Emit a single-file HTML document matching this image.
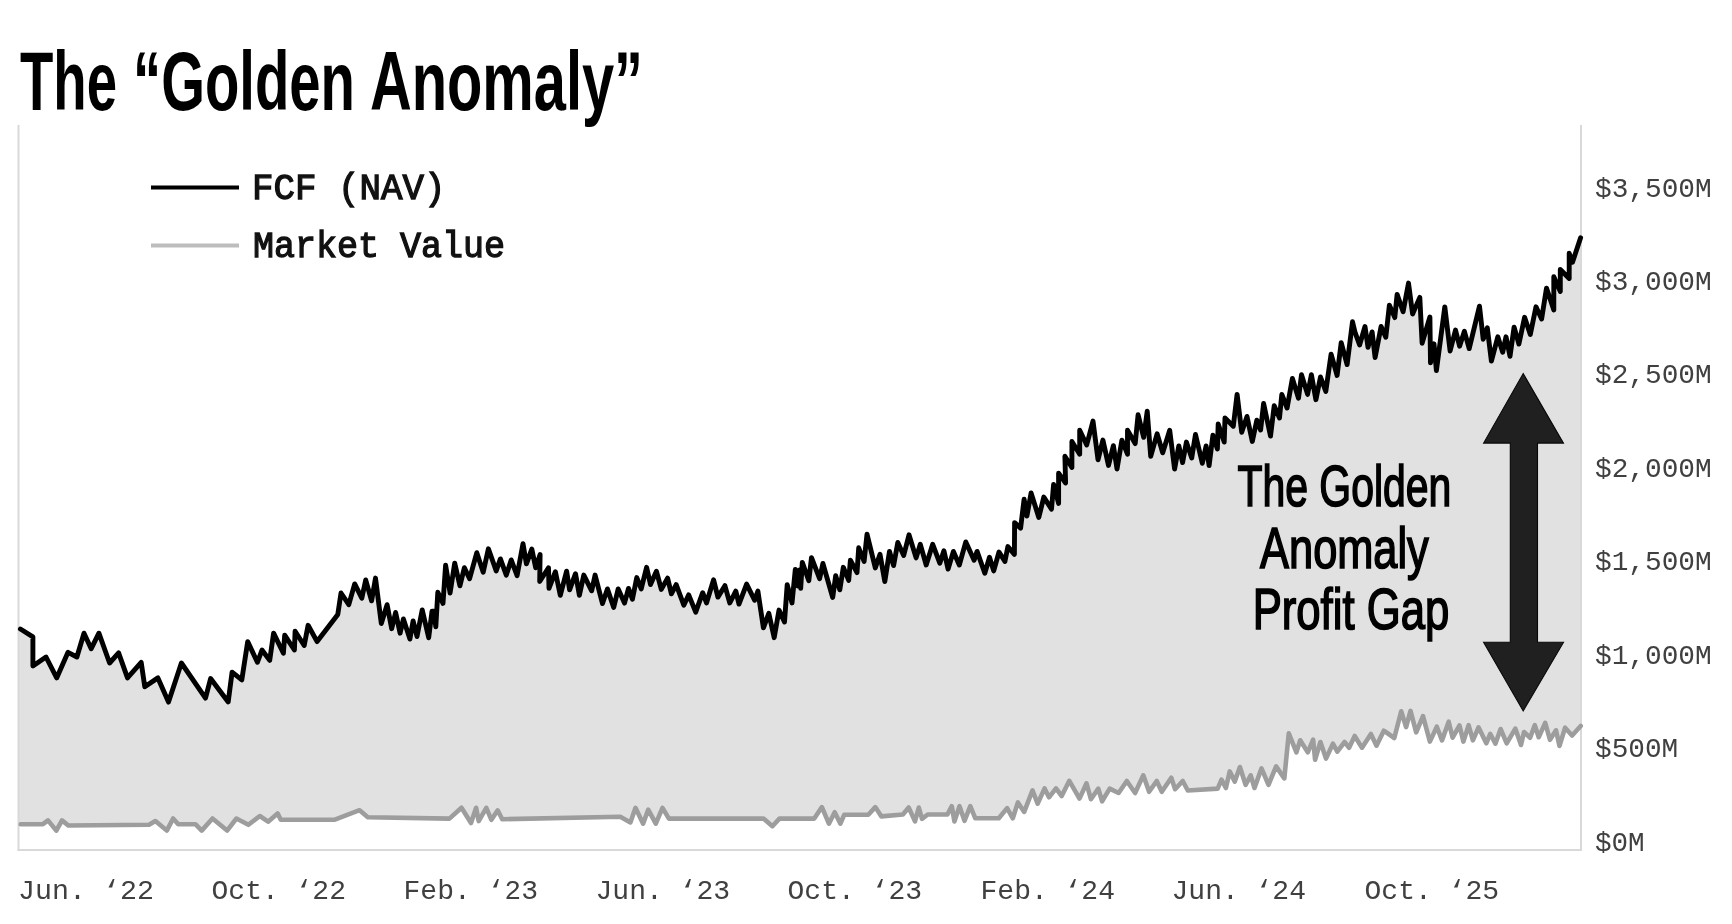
<!DOCTYPE html>
<html><head><meta charset="utf-8">
<style>
html,body{margin:0;padding:0;background:#fff;}
body{width:1732px;height:924px;overflow:hidden;}
svg{display:block;filter:blur(0.5px);}
.ax{font-family:"Liberation Mono",monospace;font-size:28px;fill:#404040;}
.lg{font-family:"Liberation Mono",monospace;font-size:37px;fill:#111;stroke:#111;stroke-width:1.3px;}
.ttl{font-family:"Liberation Sans",sans-serif;font-weight:bold;fill:#000;}
.ann{font-family:"Liberation Sans",sans-serif;font-weight:normal;fill:#000;stroke:#000;stroke-width:1.7px;}
</style></head><body>
<svg width="1732" height="924" viewBox="0 0 1732 924">
<rect width="1732" height="924" fill="#fff"/>
<polygon points="19.0,628.4 20.4,629.0 32.9,636.8 32.9,666.0 46.0,657.0 56.7,677.9 68.0,652.3 76.9,657.0 84.0,633.2 91.2,648.7 98.9,633.2 109.6,663.0 118.6,652.9 127.5,677.9 141.2,662.4 144.8,686.8 157.9,677.9 168.5,702.1 181.4,663.0 205.5,698.1 210.6,678.6 228.2,701.9 232.1,672.1 241.8,679.9 247.7,641.6 257.4,662.3 262.0,650.0 269.7,660.4 273.6,633.1 283.4,653.2 284.7,635.1 294.4,650.0 295.1,631.2 304.2,645.5 308.1,625.3 317.1,641.6 337.8,614.4 341.0,593.0 348.8,604.7 354.7,583.9 361.8,598.2 365.7,580.0 371.6,600.8 375.5,578.1 381.3,623.5 387.1,604.7 391.7,628.7 395.6,612.5 400.1,633.2 403.4,619.0 409.9,639.1 413.1,620.9 417.0,636.5 422.2,609.9 428.7,637.8 432.0,611.2 433.9,611.2 435.8,626.8 437.8,592.3 443.0,603.4 445.6,565.1 450.1,593.0 454.7,563.1 459.9,585.8 464.4,567.7 469.6,578.7 476.8,552.7 483.2,572.2 488.4,548.8 496.2,570.9 500.4,558.9 506.3,575.1 511.2,559.9 517.1,575.6 523.0,543.7 526.4,563.9 531.8,549.1 535.7,567.8 540.1,554.5 539.7,581.5 548.5,567.8 549.0,588.4 555.4,571.7 560.3,595.3 566.6,571.2 569.6,589.9 575.5,573.7 579.4,595.3 583.8,575.1 591.7,590.8 595.1,575.1 602.5,603.6 607.4,588.9 613.7,607.5 618.2,588.9 624.5,603.1 628.5,588.4 632.4,599.2 636.8,577.6 641.2,588.9 646.6,567.3 650.5,584.5 656.4,571.2 661.3,589.4 667.6,578.1 671.4,593.8 676.2,584.6 683.8,605.2 688.7,594.9 695.7,612.2 702.7,592.7 706.5,603.0 713.6,579.8 717.9,597.1 724.9,585.7 729.8,603.0 735.8,591.1 739.0,604.1 746.6,584.1 754.7,600.3 757.9,591.1 763.4,627.9 768.8,613.3 774.2,637.7 779.0,610.1 784.5,622.0 787.2,584.6 792.0,603.0 795.3,569.5 798.0,586.0 799.5,570.0 800.7,588.4 802.3,562.4 808.8,580.8 811.5,557.6 819.6,578.7 822.9,563.5 832.7,597.5 835.7,575.6 839.8,589.8 843.3,567.3 848.7,580.4 850.4,560.2 857.0,572.7 858.7,547.8 864.1,561.4 867.0,534.2 875.3,567.9 880.0,554.3 884.8,581.5 889.5,551.4 893.6,565.6 897.8,542.5 903.7,555.5 909.0,534.8 916.1,557.9 920.3,544.3 926.2,565.0 932.7,544.3 939.8,563.2 943.9,550.8 948.1,569.1 953.4,551.4 959.3,565.0 965.8,541.9 974.1,560.2 977.1,551.4 984.8,573.3 989.5,557.3 993.7,570.9 999.0,552.0 1004.9,561.4 1007.9,546.6 1014.4,554.3 1014.6,522.6 1020.6,528.1 1024.1,499.2 1026.9,516.1 1031.1,492.9 1038.8,517.5 1043.8,497.1 1051.5,509.1 1053.6,484.4 1058.6,503.4 1058.6,473.2 1065.6,483.0 1064.9,456.3 1071.9,467.5 1071.9,441.5 1079.7,454.2 1079.7,430.3 1086.7,445.0 1093.0,421.1 1098.0,459.8 1102.9,440.1 1108.5,465.4 1113.4,445.7 1117.0,469.0 1121.9,440.1 1127.5,454.2 1127.5,430.3 1135.2,443.6 1138.1,414.8 1143.7,437.3 1147.2,411.3 1150.7,456.3 1157.1,433.8 1162.7,452.8 1169.7,430.3 1174.6,469.0 1178.8,445.9 1182.6,462.6 1186.4,442.1 1191.7,458.0 1195.5,434.5 1202.3,463.3 1206.1,445.9 1209.1,465.6 1212.9,435.3 1217.4,448.9 1218.2,423.9 1224.2,442.1 1225.0,417.9 1233.3,426.2 1237.1,394.4 1241.7,432.3 1247.0,416.4 1252.3,441.4 1256.8,420.2 1260.6,430.0 1263.6,403.5 1270.5,436.1 1274.2,405.8 1279.5,417.9 1281.8,394.4 1287.1,408.0 1292.4,378.5 1298.5,398.2 1301.5,374.7 1307.6,394.4 1311.4,374.7 1315.9,399.7 1320.5,377.0 1325.8,391.4 1331.1,354.2 1337.1,375.5 1341.2,342.6 1347.1,364.6 1352.5,321.8 1354.9,331.9 1359.6,345.0 1365.0,326.5 1368.0,347.4 1372.1,331.9 1375.1,357.5 1381.1,326.5 1385.8,337.3 1389.4,305.1 1394.8,317.6 1397.1,294.4 1403.1,311.7 1408.5,283.1 1412.6,314.0 1419.8,297.4 1422.1,343.2 1429.9,317.0 1430.5,362.9 1434.0,343.8 1436.4,370.6 1444.8,306.9 1450.1,351.0 1455.5,330.1 1459.6,346.2 1464.4,331.3 1469.2,348.6 1479.5,306.2 1483.2,339.2 1487.3,327.9 1491.4,361.1 1497.8,336.8 1502.7,352.2 1506.0,336.8 1510.0,356.3 1514.1,327.1 1518.9,344.1 1524.6,317.3 1530.3,334.4 1536.0,306.8 1541.6,319.0 1546.5,288.1 1553.8,310.0 1553.8,276.8 1560.3,291.4 1560.3,269.5 1569.2,278.4 1569.2,253.3 1572.5,262.2 1580.6,237.8 1580.7,726.0 1572.1,735.5 1565.1,727.7 1559.5,745.9 1556.0,730.3 1550.0,739.8 1545.2,722.9 1538.7,737.2 1534.8,725.1 1530.1,737.7 1524.0,732.0 1521.0,745.0 1515.3,728.6 1506.7,743.3 1500.6,729.0 1495.4,743.7 1490.2,733.8 1486.3,743.3 1478.5,727.3 1472.9,740.3 1468.6,725.1 1463.4,741.6 1459.5,725.5 1452.6,737.7 1448.7,721.7 1442.0,740.4 1436.8,726.7 1429.9,741.6 1423.0,716.2 1416.2,732.3 1410.5,710.9 1406.1,727.1 1401.2,711.3 1394.3,738.0 1383.8,730.7 1376.5,745.7 1370.9,734.0 1362.0,747.7 1354.7,736.0 1349.1,747.7 1344.6,742.0 1337.3,751.7 1332.9,743.7 1326.0,758.6 1320.4,742.0 1315.1,759.8 1313.1,739.6 1307.8,752.4 1300.2,740.3 1296.4,752.4 1288.8,733.3 1284.3,778.4 1276.1,766.4 1268.5,784.8 1261.5,768.3 1254.5,788.0 1250.7,775.3 1245.6,784.8 1239.9,767.0 1234.8,781.6 1229.7,771.4 1225.9,788.0 1221.5,779.7 1217.7,788.6 1187.8,790.5 1182.7,781.0 1175.1,789.2 1171.3,777.8 1161.8,791.8 1156.7,781.0 1149.1,791.8 1143.3,775.3 1135.1,793.0 1126.8,781.0 1118.6,793.0 1109.7,788.6 1102.1,801.3 1098.3,788.6 1090.9,799.2 1086.5,783.3 1079.5,798.6 1069.3,780.8 1061.7,796.0 1056.0,788.4 1049.0,797.3 1044.6,788.4 1037.6,803.7 1032.5,790.3 1024.2,811.9 1017.9,802.4 1012.8,818.3 1007.1,808.1 998.8,818.3 975.3,818.3 970.3,806.2 964.5,820.8 959.5,806.2 954.4,821.4 951.8,806.2 947.4,814.5 927.7,814.5 922.0,818.9 918.8,807.5 915.0,821.4 908.7,807.5 902.9,814.5 881.4,816.4 875.3,807.1 868.3,814.8 844.2,814.8 840.4,823.7 834.7,812.2 828.9,823.7 821.9,807.1 814.3,818.6 779.4,818.6 772.4,826.2 763.5,818.6 668.9,818.6 662.5,807.8 655.8,823.7 648.2,809.7 643.1,823.7 635.5,807.8 630.4,822.4 620.3,816.7 502.2,819.2 497.7,810.3 491.4,819.8 486.3,807.8 478.7,821.1 476.1,807.8 471.0,823.0 461.5,807.8 449.4,818.6 367.8,817.2 359.6,810.2 334.2,819.8 280.8,819.8 277.6,813.4 268.1,821.7 259.8,816.0 248.4,824.8 236.4,818.5 227.1,830.6 212.5,818.5 201.7,830.6 195.4,824.2 178.2,824.2 173.1,818.5 166.8,830.6 155.4,821.0 149.0,824.8 68.3,825.5 62.0,820.4 56.3,830.6 48.0,820.4 42.9,824.2 20.7,824.2 19.0,824.2" fill="#e1e1e1"/>
<line x1="18.5" y1="125" x2="18.5" y2="851" stroke="#d9d9d9" stroke-width="2"/>
<line x1="1581" y1="125" x2="1581" y2="851" stroke="#d9d9d9" stroke-width="2"/>
<line x1="17.5" y1="850" x2="1582" y2="850" stroke="#d9d9d9" stroke-width="2"/>
<polyline points="20.7,824.2 42.9,824.2 48.0,820.4 56.3,830.6 62.0,820.4 68.3,825.5 149.0,824.8 155.4,821.0 166.8,830.6 173.1,818.5 178.2,824.2 195.4,824.2 201.7,830.6 212.5,818.5 227.1,830.6 236.4,818.5 248.4,824.8 259.8,816.0 268.1,821.7 277.6,813.4 280.8,819.8 334.2,819.8 359.6,810.2 367.8,817.2 449.4,818.6 461.5,807.8 471.0,823.0 476.1,807.8 478.7,821.1 486.3,807.8 491.4,819.8 497.7,810.3 502.2,819.2 620.3,816.7 630.4,822.4 635.5,807.8 643.1,823.7 648.2,809.7 655.8,823.7 662.5,807.8 668.9,818.6 763.5,818.6 772.4,826.2 779.4,818.6 814.3,818.6 821.9,807.1 828.9,823.7 834.7,812.2 840.4,823.7 844.2,814.8 868.3,814.8 875.3,807.1 881.4,816.4 902.9,814.5 908.7,807.5 915.0,821.4 918.8,807.5 922.0,818.9 927.7,814.5 947.4,814.5 951.8,806.2 954.4,821.4 959.5,806.2 964.5,820.8 970.3,806.2 975.3,818.3 998.8,818.3 1007.1,808.1 1012.8,818.3 1017.9,802.4 1024.2,811.9 1032.5,790.3 1037.6,803.7 1044.6,788.4 1049.0,797.3 1056.0,788.4 1061.7,796.0 1069.3,780.8 1079.5,798.6 1086.5,783.3 1090.9,799.2 1098.3,788.6 1102.1,801.3 1109.7,788.6 1118.6,793.0 1126.8,781.0 1135.1,793.0 1143.3,775.3 1149.1,791.8 1156.7,781.0 1161.8,791.8 1171.3,777.8 1175.1,789.2 1182.7,781.0 1187.8,790.5 1217.7,788.6 1221.5,779.7 1225.9,788.0 1229.7,771.4 1234.8,781.6 1239.9,767.0 1245.6,784.8 1250.7,775.3 1254.5,788.0 1261.5,768.3 1268.5,784.8 1276.1,766.4 1284.3,778.4 1288.8,733.3 1296.4,752.4 1300.2,740.3 1307.8,752.4 1313.1,739.6 1315.1,759.8 1320.4,742.0 1326.0,758.6 1332.9,743.7 1337.3,751.7 1344.6,742.0 1349.1,747.7 1354.7,736.0 1362.0,747.7 1370.9,734.0 1376.5,745.7 1383.8,730.7 1394.3,738.0 1401.2,711.3 1406.1,727.1 1410.5,710.9 1416.2,732.3 1423.0,716.2 1429.9,741.6 1436.8,726.7 1442.0,740.4 1448.7,721.7 1452.6,737.7 1459.5,725.5 1463.4,741.6 1468.6,725.1 1472.9,740.3 1478.5,727.3 1486.3,743.3 1490.2,733.8 1495.4,743.7 1500.6,729.0 1506.7,743.3 1515.3,728.6 1521.0,745.0 1524.0,732.0 1530.1,737.7 1534.8,725.1 1538.7,737.2 1545.2,722.9 1550.0,739.8 1556.0,730.3 1559.5,745.9 1565.1,727.7 1572.1,735.5 1580.7,726.0" fill="none" stroke="#9d9d9d" stroke-width="4.6" stroke-linejoin="round" stroke-linecap="round"/>
<polyline points="20.4,629.0 32.9,636.8 32.9,666.0 46.0,657.0 56.7,677.9 68.0,652.3 76.9,657.0 84.0,633.2 91.2,648.7 98.9,633.2 109.6,663.0 118.6,652.9 127.5,677.9 141.2,662.4 144.8,686.8 157.9,677.9 168.5,702.1 181.4,663.0 205.5,698.1 210.6,678.6 228.2,701.9 232.1,672.1 241.8,679.9 247.7,641.6 257.4,662.3 262.0,650.0 269.7,660.4 273.6,633.1 283.4,653.2 284.7,635.1 294.4,650.0 295.1,631.2 304.2,645.5 308.1,625.3 317.1,641.6 337.8,614.4 341.0,593.0 348.8,604.7 354.7,583.9 361.8,598.2 365.7,580.0 371.6,600.8 375.5,578.1 381.3,623.5 387.1,604.7 391.7,628.7 395.6,612.5 400.1,633.2 403.4,619.0 409.9,639.1 413.1,620.9 417.0,636.5 422.2,609.9 428.7,637.8 432.0,611.2 433.9,611.2 435.8,626.8 437.8,592.3 443.0,603.4 445.6,565.1 450.1,593.0 454.7,563.1 459.9,585.8 464.4,567.7 469.6,578.7 476.8,552.7 483.2,572.2 488.4,548.8 496.2,570.9 500.4,558.9 506.3,575.1 511.2,559.9 517.1,575.6 523.0,543.7 526.4,563.9 531.8,549.1 535.7,567.8 540.1,554.5 539.7,581.5 548.5,567.8 549.0,588.4 555.4,571.7 560.3,595.3 566.6,571.2 569.6,589.9 575.5,573.7 579.4,595.3 583.8,575.1 591.7,590.8 595.1,575.1 602.5,603.6 607.4,588.9 613.7,607.5 618.2,588.9 624.5,603.1 628.5,588.4 632.4,599.2 636.8,577.6 641.2,588.9 646.6,567.3 650.5,584.5 656.4,571.2 661.3,589.4 667.6,578.1 671.4,593.8 676.2,584.6 683.8,605.2 688.7,594.9 695.7,612.2 702.7,592.7 706.5,603.0 713.6,579.8 717.9,597.1 724.9,585.7 729.8,603.0 735.8,591.1 739.0,604.1 746.6,584.1 754.7,600.3 757.9,591.1 763.4,627.9 768.8,613.3 774.2,637.7 779.0,610.1 784.5,622.0 787.2,584.6 792.0,603.0 795.3,569.5 798.0,586.0 799.5,570.0 800.7,588.4 802.3,562.4 808.8,580.8 811.5,557.6 819.6,578.7 822.9,563.5 832.7,597.5 835.7,575.6 839.8,589.8 843.3,567.3 848.7,580.4 850.4,560.2 857.0,572.7 858.7,547.8 864.1,561.4 867.0,534.2 875.3,567.9 880.0,554.3 884.8,581.5 889.5,551.4 893.6,565.6 897.8,542.5 903.7,555.5 909.0,534.8 916.1,557.9 920.3,544.3 926.2,565.0 932.7,544.3 939.8,563.2 943.9,550.8 948.1,569.1 953.4,551.4 959.3,565.0 965.8,541.9 974.1,560.2 977.1,551.4 984.8,573.3 989.5,557.3 993.7,570.9 999.0,552.0 1004.9,561.4 1007.9,546.6 1014.4,554.3 1014.6,522.6 1020.6,528.1 1024.1,499.2 1026.9,516.1 1031.1,492.9 1038.8,517.5 1043.8,497.1 1051.5,509.1 1053.6,484.4 1058.6,503.4 1058.6,473.2 1065.6,483.0 1064.9,456.3 1071.9,467.5 1071.9,441.5 1079.7,454.2 1079.7,430.3 1086.7,445.0 1093.0,421.1 1098.0,459.8 1102.9,440.1 1108.5,465.4 1113.4,445.7 1117.0,469.0 1121.9,440.1 1127.5,454.2 1127.5,430.3 1135.2,443.6 1138.1,414.8 1143.7,437.3 1147.2,411.3 1150.7,456.3 1157.1,433.8 1162.7,452.8 1169.7,430.3 1174.6,469.0 1178.8,445.9 1182.6,462.6 1186.4,442.1 1191.7,458.0 1195.5,434.5 1202.3,463.3 1206.1,445.9 1209.1,465.6 1212.9,435.3 1217.4,448.9 1218.2,423.9 1224.2,442.1 1225.0,417.9 1233.3,426.2 1237.1,394.4 1241.7,432.3 1247.0,416.4 1252.3,441.4 1256.8,420.2 1260.6,430.0 1263.6,403.5 1270.5,436.1 1274.2,405.8 1279.5,417.9 1281.8,394.4 1287.1,408.0 1292.4,378.5 1298.5,398.2 1301.5,374.7 1307.6,394.4 1311.4,374.7 1315.9,399.7 1320.5,377.0 1325.8,391.4 1331.1,354.2 1337.1,375.5 1341.2,342.6 1347.1,364.6 1352.5,321.8 1354.9,331.9 1359.6,345.0 1365.0,326.5 1368.0,347.4 1372.1,331.9 1375.1,357.5 1381.1,326.5 1385.8,337.3 1389.4,305.1 1394.8,317.6 1397.1,294.4 1403.1,311.7 1408.5,283.1 1412.6,314.0 1419.8,297.4 1422.1,343.2 1429.9,317.0 1430.5,362.9 1434.0,343.8 1436.4,370.6 1444.8,306.9 1450.1,351.0 1455.5,330.1 1459.6,346.2 1464.4,331.3 1469.2,348.6 1479.5,306.2 1483.2,339.2 1487.3,327.9 1491.4,361.1 1497.8,336.8 1502.7,352.2 1506.0,336.8 1510.0,356.3 1514.1,327.1 1518.9,344.1 1524.6,317.3 1530.3,334.4 1536.0,306.8 1541.6,319.0 1546.5,288.1 1553.8,310.0 1553.8,276.8 1560.3,291.4 1560.3,269.5 1569.2,278.4 1569.2,253.3 1572.5,262.2 1580.6,237.8" fill="none" stroke="#000" stroke-width="4.9" stroke-linejoin="round" stroke-linecap="round"/>
<polygon points="1523.2,373.6 1563.5,443.1 1537.5,443.1 1537.5,642.2 1563.5,642.2 1523.2,711.0 1483.6,642.2 1510.3,642.2 1510.3,443.1 1483.6,443.1" fill="#202020" stroke="#080808" stroke-width="1.1" stroke-linejoin="miter"/>
<line x1="151" y1="187.4" x2="239" y2="187.4" stroke="#000" stroke-width="4"/>
<line x1="151" y1="245.6" x2="239" y2="245.6" stroke="#bdbdbd" stroke-width="4"/>
<text x="252" y="198.8" class="lg" textLength="193.5" lengthAdjust="spacingAndGlyphs">FCF (NAV)</text>
<text x="253" y="256.5" class="lg" textLength="252" lengthAdjust="spacingAndGlyphs">Market Value</text>
<text x="1595" y="196.5" class="ax" textLength="116.7" lengthAdjust="spacingAndGlyphs">$3,500M</text>
<text x="1595" y="289.9" class="ax" textLength="116.7" lengthAdjust="spacingAndGlyphs">$3,000M</text>
<text x="1595" y="383.4" class="ax" textLength="116.7" lengthAdjust="spacingAndGlyphs">$2,500M</text>
<text x="1595" y="476.8" class="ax" textLength="116.7" lengthAdjust="spacingAndGlyphs">$2,000M</text>
<text x="1595" y="570.3" class="ax" textLength="116.7" lengthAdjust="spacingAndGlyphs">$1,500M</text>
<text x="1595" y="663.7" class="ax" textLength="116.7" lengthAdjust="spacingAndGlyphs">$1,000M</text>
<text x="1595" y="757.1" class="ax" textLength="83.2" lengthAdjust="spacingAndGlyphs">$500M</text>
<text x="1595" y="850.6" class="ax" textLength="49.7" lengthAdjust="spacingAndGlyphs">$0M</text>
<text x="18" y="898.8" class="ax" textLength="136" lengthAdjust="spacingAndGlyphs">Jun. ‘22</text>
<text x="211.5" y="898.8" class="ax" textLength="134.5" lengthAdjust="spacingAndGlyphs">Oct. ‘22</text>
<text x="403.5" y="898.8" class="ax" textLength="134.5" lengthAdjust="spacingAndGlyphs">Feb. ‘23</text>
<text x="595.5" y="898.8" class="ax" textLength="134.5" lengthAdjust="spacingAndGlyphs">Jun. ‘23</text>
<text x="787.5" y="898.8" class="ax" textLength="134.5" lengthAdjust="spacingAndGlyphs">Oct. ‘23</text>
<text x="980.5" y="898.8" class="ax" textLength="134.5" lengthAdjust="spacingAndGlyphs">Feb. ‘24</text>
<text x="1171.5" y="898.8" class="ax" textLength="134.5" lengthAdjust="spacingAndGlyphs">Jun. ‘24</text>
<text x="1364.5" y="898.8" class="ax" textLength="134.5" lengthAdjust="spacingAndGlyphs">Oct. ‘25</text>

<text x="20" y="110" class="ttl" font-size="84" textLength="97" lengthAdjust="spacingAndGlyphs">The</text>
<text x="133" y="110" class="ttl" font-size="84" textLength="222" lengthAdjust="spacingAndGlyphs">“Golden</text>
<text x="370" y="110" class="ttl" font-size="84" textLength="273" lengthAdjust="spacingAndGlyphs">Anomaly”</text>
<text x="1237.4" y="506.2" class="ann" font-size="58" textLength="214" lengthAdjust="spacingAndGlyphs">The Golden</text>
<text x="1260.1" y="568.0" class="ann" font-size="58" textLength="168.7" lengthAdjust="spacingAndGlyphs">Anomaly</text>
<text x="1252.7" y="628.6" class="ann" font-size="58" textLength="196.5" lengthAdjust="spacingAndGlyphs">Profit Gap</text>
</svg>
</body></html>
